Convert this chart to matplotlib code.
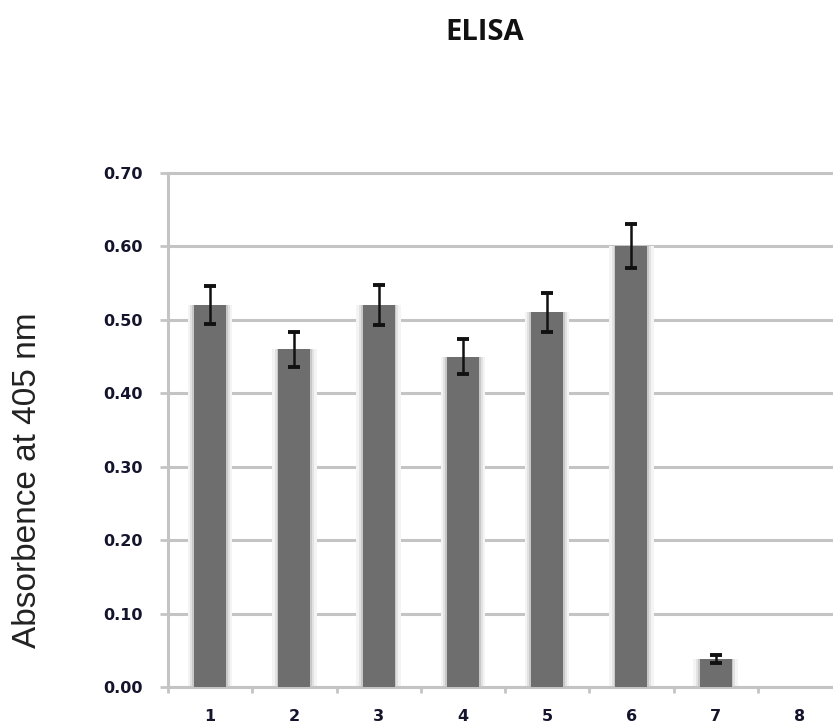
import numpy as np
import matplotlib
matplotlib.use('Agg')
import matplotlib.pyplot as plt

# data
samples = ['1', '2', '3', '4', '5', '6', '7', '8']
absorbance = [0.52, 0.46, 0.52, 0.45, 0.51, 0.60, 0.038, 0.0]
err = [0.026, 0.024, 0.027, 0.024, 0.027, 0.030, 0.005, 0.0]
yticks = [0.0, 0.1, 0.2, 0.3, 0.4, 0.5, 0.6, 0.7]

grid_col = '#c4c4c4'
bar_col = '#6e6e6e'
txt_col = '#14142c'

fig = plt.figure(figsize=(8.33, 7.26), dpi=100)
# axes run past the right edge, like the cropped original
ax = fig.add_axes([168/833, 39/726, 674/833, 517.7/726])

x = np.arange(1, len(samples) + 1)

# soft glow behind bars
ax.bar(x, absorbance, width=0.53, color='#f4f4f4', zorder=2)
ax.bar(x, absorbance, width=0.47, color='#e2e2e2', zorder=2)
ax.bar(x, absorbance, width=0.42, color='#c8c8c8', zorder=2)
ax.bar(x, absorbance, width=0.38, color=bar_col, zorder=3)
ax.errorbar(x[:7], absorbance[:7], yerr=err[:7], fmt='none', ecolor='#111111',
            elinewidth=1.8, capsize=4.5, capthick=2.8, zorder=4)

ax.set_xlim(0.5, 8.5)
ax.set_ylim(0, 0.705)
ax.set_yticks(yticks)
ax.set_yticklabels(['%.2f' % v for v in yticks])
ax.set_xticks(x)
ax.set_xticklabels(samples)
ax.set_xticks(np.arange(0.5, 9, 1), minor=True)

ax.yaxis.grid(True, color=grid_col, linewidth=2.2, zorder=1)
ax.set_axisbelow(True)

for s in ['top', 'right']:
    ax.spines[s].set_visible(False)
ax.spines['left'].set_color(grid_col)
ax.spines['left'].set_linewidth(2.2)
ax.spines['left'].set_bounds(0, 0.7)
ax.spines['bottom'].set_color(grid_col)
ax.spines['bottom'].set_linewidth(2.2)

ax.tick_params(axis='y', direction='out', length=6, width=2, color=grid_col,
               labelsize=11.5, labelcolor=txt_col, pad=12)
ax.tick_params(axis='x', which='major', length=0, labelsize=11.5,
               labelcolor=txt_col, pad=16)
ax.tick_params(axis='x', which='minor', direction='out', length=4, width=2,
               color=grid_col)
for lab in ax.get_xticklabels() + ax.get_yticklabels():
    lab.set_fontweight('bold')

ax.set_ylabel('Absorbence at 405 nm', fontsize=24, family='Liberation Sans',
              color='#222222')
ax.yaxis.set_label_coords(-0.185, 0.40)
fig.text(485/833, 1 - 32/726, 'ELISA', ha='center', va='center',
         fontsize=21, fontweight='bold', family='Open Sans', color='#111111')

fig.savefig('out.png', dpi=100)
